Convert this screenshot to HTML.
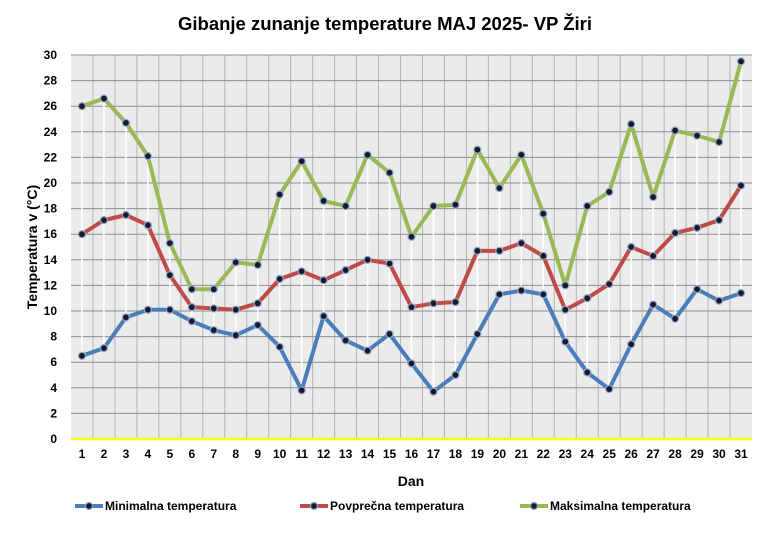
<!DOCTYPE html>
<html><head><meta charset="utf-8"><style>
body{margin:0;background:#fff;}
svg text{font-family:"Liberation Sans",sans-serif;font-weight:bold;}
</style></head><body>
<svg id="chart" width="770" height="532" xmlns="http://www.w3.org/2000/svg">
<text x="385" y="30" text-anchor="middle" font-size="18.5" fill="#000">Gibanje zunanje temperature MAJ 2025- VP Žiri</text>
<rect x="71" y="55" width="681" height="384" fill="#ebebeb"/>
<g id="grid"></g><g id="hilo"></g><g id="series"></g><g id="axes"></g>
<text x="37" y="247" transform="rotate(-90 37 247)" text-anchor="middle" font-size="14">Temperatura v (°C)</text>
<text x="411" y="486" text-anchor="middle" font-size="14">Dan</text>
<g id="legend"></g>
</svg>
<script>
const days=[1,2,3,4,5,6,7,8,9,10,11,12,13,14,15,16,17,18,19,20,21,22,23,24,25,26,27,28,29,30,31];
const minTemp=[6.5,7.1,9.5,10.1,10.1,9.2,8.5,8.1,8.9,7.2,3.8,9.6,7.7,6.9,8.2,5.9,3.7,5.0,8.2,11.3,11.6,11.3,7.6,5.2,3.9,7.4,10.5,9.4,11.7,10.8,11.4];
const avgTemp=[16.0,17.1,17.5,16.7,12.8,10.3,10.2,10.1,10.6,12.5,13.1,12.4,13.2,14.0,13.7,10.3,10.6,10.7,14.7,14.7,15.3,14.3,10.1,11.0,12.1,15.0,14.3,16.1,16.5,17.1,19.8];
const maxTemp=[26.0,26.6,24.7,22.1,15.3,11.7,11.7,13.8,13.6,19.1,21.7,18.6,18.2,22.2,20.8,15.8,18.2,18.3,22.6,19.6,22.2,17.6,12.0,18.2,19.3,24.6,18.9,24.1,23.7,23.2,29.5];
const yTicks=[0,2,4,6,8,10,12,14,16,18,20,22,24,26,28,30];
const seriesNames=["Minimalna temperatura","Povprečna temperatura","Maksimalna temperatura"];
const NS="http://www.w3.org/2000/svg";
const L=71,R=752,T=55,B=439;
const bw=(R-L)/days.length;
function xPos(i){return L+bw*(i+0.5);}
function yPos(v){return B-(v/30)*(B-T);}
function mk(tag,attrs,parent){const e=document.createElementNS(NS,tag);for(const k in attrs)e.setAttribute(k,attrs[k]);parent.appendChild(e);return e;}
const grid=document.getElementById('grid');
for(let i=1;i<days.length;i++){const l=mk('line',{x1:L+bw*i,x2:L+bw*i,y1:T,y2:B,stroke:'#b4b4b4','stroke-width':1},grid);

}
yTicks.forEach(t=>{if(t===0)return;const l=mk('line',{x1:L,x2:R,y1:yPos(t),y2:yPos(t),stroke:'#8c8c8c','stroke-width':1},grid);

});
const axes=document.getElementById('axes');
const ax=mk('line',{x1:L,x2:R,y1:B,y2:B,stroke:'#ffff00','stroke-width':2.5},axes);


yTicks.forEach(t=>{const tx=mk('text',{x:57,y:yPos(t)+4,'text-anchor':'end','font-size':12},axes);tx.textContent=t;

});
days.forEach((d,i)=>{const tx=mk('text',{x:xPos(i),y:458,'text-anchor':'middle','font-size':12},axes);tx.textContent=d;

});
const hilo=document.getElementById('hilo');
days.forEach((d,i)=>{const l=mk('line',{x1:xPos(i),x2:xPos(i),y1:yPos(maxTemp[i]),y2:yPos(minTemp[i]),stroke:'#fff','stroke-width':1.5},hilo);

});
const sg=document.getElementById('series');
const data=[minTemp,avgTemp,maxTemp];const colors=['#4a7ebb','#be4b48','#98b954'];const names=['min-temp-line','avg-temp-line','max-temp-line'];
data.forEach((s,k)=>{const g=mk('g',{},sg);


mk('polyline',{points:s.map((v,i)=>xPos(i)+','+yPos(v)).join(' '),fill:'none',stroke:colors[k],'stroke-width':4,'stroke-linejoin':'round'},g);
s.forEach((v,i)=>{const c=mk('circle',{cx:xPos(i),cy:yPos(v),r:3.5,fill:'#1a1a2a',stroke:'#8fa8d0','stroke-width':1.2},g);

});});
const lg=document.getElementById('legend');
const lx=[75,300,520];
seriesNames.forEach((n,k)=>{const g=mk('g',{},lg);


mk('line',{x1:lx[k],x2:lx[k]+28,y1:506,y2:506,stroke:colors[k],'stroke-width':4},g);
mk('circle',{cx:lx[k]+14,cy:506,r:3.5,fill:'#1a1a2a',stroke:'#8fa8d0','stroke-width':1.2},g);
const t=mk('text',{x:lx[k]+30,y:510,'font-size':12},g);t.textContent=n;});
</script>
</body></html>
